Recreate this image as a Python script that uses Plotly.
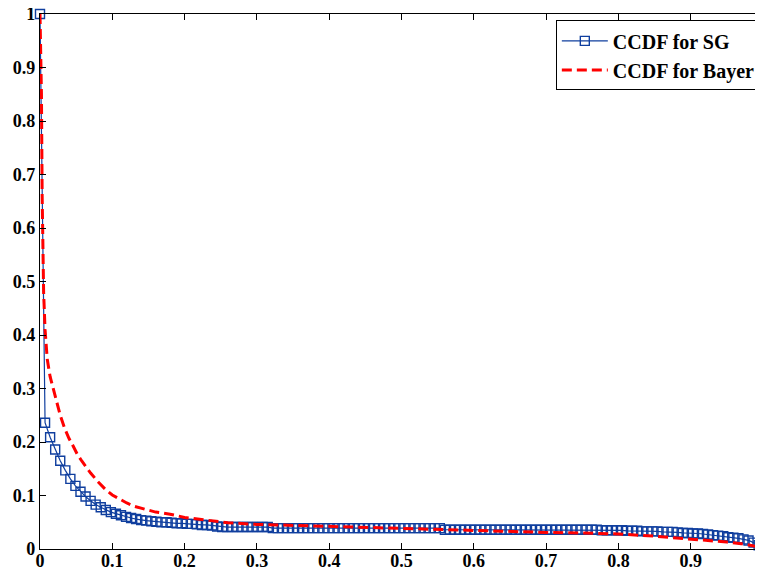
"""CCDF comparison: SG vs Bayer"""

import plotly.graph_objects as go

# SG curve (open squares), sampled every 0.007
SG_X = [
    0.0,
    0.007, 0.014, 0.021, 0.028, 0.035, 0.042, 0.049, 0.056, 0.063, 0.070,
    0.077, 0.084, 0.091, 0.098, 0.105, 0.112, 0.119, 0.126, 0.133, 0.140,
    0.147, 0.154, 0.161, 0.168, 0.175, 0.182, 0.189, 0.196, 0.203, 0.210,
    0.217, 0.224, 0.231, 0.238, 0.245, 0.252, 0.259, 0.266, 0.273, 0.280,
    0.287, 0.294, 0.301, 0.308, 0.315, 0.322, 0.329, 0.336, 0.343, 0.350,
    0.357, 0.364, 0.371, 0.378, 0.385, 0.392, 0.399, 0.406, 0.413, 0.420,
    0.427, 0.434, 0.441, 0.448, 0.455, 0.462, 0.469, 0.476, 0.483, 0.490,
    0.497, 0.504, 0.511, 0.518, 0.525, 0.532, 0.539, 0.546, 0.553, 0.560,
    0.567, 0.574, 0.581, 0.588, 0.595, 0.602, 0.609, 0.616, 0.623, 0.630,
    0.637, 0.644, 0.651, 0.658, 0.665, 0.672, 0.679, 0.686, 0.693, 0.700,
    0.707, 0.714, 0.721, 0.728, 0.735, 0.742, 0.749, 0.756, 0.763, 0.770,
    0.777, 0.784, 0.791, 0.798, 0.805, 0.812, 0.819, 0.826, 0.833, 0.840,
    0.847, 0.854, 0.861, 0.868, 0.875, 0.882, 0.889, 0.896, 0.903, 0.910,
    0.917, 0.924, 0.931, 0.938, 0.945, 0.952, 0.959, 0.966, 0.973, 0.980,
    0.987, 0.994,
    1.0,
]
SG_Y = [
    1.0,
    0.236, 0.209, 0.186, 0.165, 0.147, 0.131, 0.118, 0.107, 0.098, 0.090,
    0.083, 0.078, 0.073, 0.069, 0.066, 0.063, 0.060, 0.058, 0.056, 0.054,
    0.053, 0.052, 0.051, 0.050, 0.050, 0.049, 0.048, 0.048, 0.047, 0.047,
    0.046, 0.045, 0.045, 0.044, 0.042, 0.041, 0.041, 0.041, 0.041, 0.041,
    0.041, 0.041, 0.041, 0.041, 0.041, 0.039, 0.039, 0.039, 0.039, 0.039,
    0.039, 0.039, 0.039, 0.039, 0.039, 0.039, 0.039, 0.039, 0.039, 0.039,
    0.039, 0.039, 0.039, 0.039, 0.039, 0.039, 0.039, 0.039, 0.039, 0.039,
    0.039, 0.039, 0.039, 0.039, 0.039, 0.039, 0.039, 0.039, 0.039, 0.036,
    0.036, 0.036, 0.036, 0.036, 0.036, 0.036, 0.036, 0.036, 0.036, 0.036,
    0.036, 0.036, 0.036, 0.036, 0.036, 0.036, 0.036, 0.036, 0.036, 0.036,
    0.036, 0.036, 0.036, 0.036, 0.036, 0.036, 0.036, 0.036, 0.036, 0.036,
    0.035, 0.035, 0.035, 0.035, 0.035, 0.034, 0.034, 0.034, 0.033, 0.033,
    0.033, 0.033, 0.032, 0.032, 0.032, 0.031, 0.030, 0.030, 0.029, 0.029,
    0.028, 0.027, 0.026, 0.025, 0.024, 0.022, 0.021, 0.020, 0.018, 0.016,
    0.012, 0.007,
    0.0,
]

# Bayer curve (red dashed)
BAYER_X = [
    0.0, 0.001, 0.002, 0.003, 0.004, 0.005, 0.007, 0.01, 0.014, 0.018,
    0.022, 0.028, 0.034, 0.04, 0.046, 0.052, 0.058, 0.064, 0.07, 0.08,
    0.09, 0.1, 0.11, 0.12, 0.13, 0.14, 0.15, 0.16, 0.18, 0.2,
    0.23, 0.26, 0.3, 0.35, 0.4, 0.45, 0.5, 0.56, 0.6, 0.65,
    0.7, 0.75, 0.8, 0.85, 0.9, 0.95, 0.97, 0.99, 1.0,
]
BAYER_Y = [
    1.0, 0.95, 0.85, 0.66, 0.55, 0.48, 0.41, 0.355, 0.322, 0.300,
    0.282, 0.250, 0.226, 0.207, 0.192, 0.176, 0.164, 0.152, 0.142, 0.126,
    0.112, 0.101, 0.093, 0.086, 0.080, 0.076, 0.072, 0.069, 0.065, 0.059,
    0.054, 0.049, 0.046, 0.044, 0.042, 0.040, 0.039, 0.037, 0.034, 0.033,
    0.031, 0.030, 0.028, 0.024, 0.019, 0.013, 0.010, 0.005, 0.0,
]

SG_COLOR = "#0F3E9E"
BAYER_COLOR = "#FF0000"
_SERIF = "Liberation Serif, Times New Roman, serif"
_TICKFONT = dict(family=_SERIF, size=18, color="black", weight="bold")
_LEGFONT = dict(family=_SERIF, size=20, color="black", weight="bold")

fig = go.Figure()
fig.add_trace(go.Scatter(
    x=SG_X, y=SG_Y, name="CCDF for SG",
    mode="lines+markers",
    line=dict(color=SG_COLOR, width=1.2),
    marker=dict(symbol="square-open", size=9, color=SG_COLOR,
                line=dict(width=1.4, color=SG_COLOR)),
    cliponaxis=False,
))
fig.add_trace(go.Scatter(
    x=BAYER_X, y=BAYER_Y, name="CCDF for Bayer",
    mode="lines",
    line=dict(color=BAYER_COLOR, width=3, dash="10px,5px"),
))

_axis = dict(
    showgrid=False, zeroline=False, automargin=False,
    showline=True, linecolor="black", linewidth=1.3,
    mirror="ticks", ticks="inside", ticklen=6, tickcolor="black",
    tickfont=_TICKFONT, dtick=0.1, tick0=0,
    ticklabeloverflow="allow",
)

# the page body keeps an 8px margin, so the figure is 8px smaller
# and the plot margins are trimmed by the same amount
fig.update_layout(
    width=755, height=562,
    margin=dict(l=32, r=0, t=6, b=21),
    plot_bgcolor="white", paper_bgcolor="white",
    xaxis=dict(_axis, range=[0, 1], ticklabelstandoff=-5),
    yaxis=dict(_axis, range=[0, 1]),
    showlegend=True,
    legend=dict(
        x=0.997, xanchor="right", y=0.988, yanchor="top",
        bgcolor="white", bordercolor="black", borderwidth=1,
        font=_LEGFONT, tracegroupgap=0, itemwidth=46,
    ),
)

fig.write_html("out.html")
